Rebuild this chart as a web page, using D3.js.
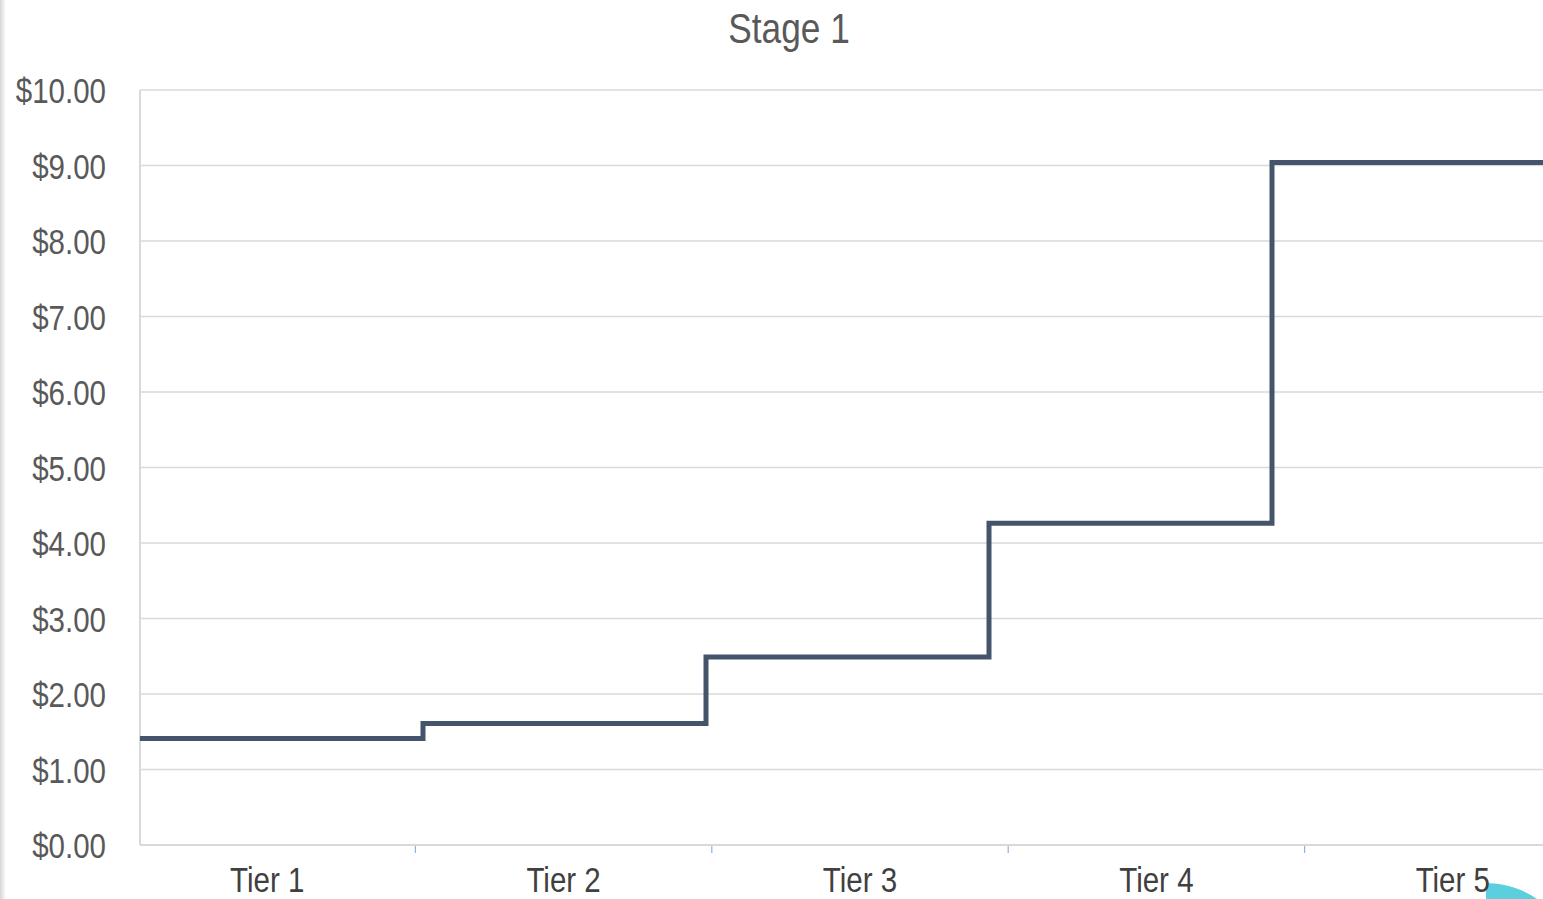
<!DOCTYPE html>
<html>
<head>
<meta charset="utf-8">
<script src="https://cdn.jsdelivr.net/npm/d3@7"></script>
<style>
  html, body { margin: 0; padding: 0; background: #fff; overflow: hidden; }
  svg { display: block; }
  text { font-family: "Liberation Sans", Arial, sans-serif; }
</style>
</head>
<body>
<svg id="chart" width="1543" height="899"></svg>
<script>
// ---- data ----
const title = "Stage 1";
const categories = ["Tier 1", "Tier 2", "Tier 3", "Tier 4", "Tier 5"];
const prices = [1.41, 1.61, 2.49, 4.26, 9.04];
const yTicks = [0, 1, 2, 3, 4, 5, 6, 7, 8, 9, 10];

// ---- layout ----
const W = 1543, H = 899;
const plotLeft = 140, plotRight = 1555, plotTop = 90, plotBottom = 845;
const narrow = 0.82;

const svg = d3.select("#chart");

// left edge shadow
const defs = svg.append("defs");
const grad = defs.append("linearGradient").attr("id", "edge").attr("x1", 0).attr("x2", 1);
grad.append("stop").attr("offset", 0).attr("stop-color", "#d6d6d6");
grad.append("stop").attr("offset", 1).attr("stop-color", "#ffffff");
svg.append("rect").attr("x", 0).attr("y", 0).attr("width", 6).attr("height", H).attr("fill", "url(#edge)");

const y = d3.scaleLinear().domain([0, 10]).range([plotBottom, plotTop]);
const xStep = d3.scaleLinear().domain([0, categories.length]).range([plotLeft, plotRight]);
const xCat = d3.scaleBand().domain(categories).range([119, 1601]);

// gridlines
svg.append("g").selectAll("line").data(yTicks.filter(d => d > 0)).join("line")
  .attr("x1", plotLeft).attr("x2", W)
  .attr("y1", d => y(d)).attr("y2", d => y(d))
  .attr("stroke", "#d9d9d9").attr("stroke-width", 1.5);

// axes lines
svg.append("line").attr("x1", plotLeft).attr("x2", plotLeft).attr("y1", plotTop).attr("y2", plotBottom)
  .attr("stroke", "#d9d9d9").attr("stroke-width", 2);
svg.append("line").attr("x1", plotLeft).attr("x2", W).attr("y1", plotBottom).attr("y2", plotBottom)
  .attr("stroke", "#d9d9d9").attr("stroke-width", 2);

// y labels
const fmt = d3.format("$.2f");
svg.append("g").selectAll("g").data(yTicks).join("g")
  .attr("transform", d => `translate(106,${y(d) + 13}) scale(${narrow},1)`)
  .append("text")
  .attr("text-anchor", "end")
  .attr("font-size", 36).attr("fill", "#595959")
  .text(d => fmt(d));

// category ticks (between bands)
const boundaries = categories.slice(1).map(c => xCat(c));
svg.append("g").selectAll("line").data(boundaries).join("line")
  .attr("x1", d => d).attr("x2", d => d)
  .attr("y1", plotBottom + 1).attr("y2", plotBottom + 8)
  .attr("stroke", "#8db3e2").attr("stroke-width", 1.2);

// cyan decoration (behind labels)
const clip = defs.append("clipPath").attr("id", "cclip");
clip.append("rect").attr("x", 1486).attr("y", 0).attr("width", 200).attr("height", H);
svg.append("circle").attr("cx", 1486).attr("cy", 972).attr("r", 89)
  .attr("fill", "#5ccfdf").attr("clip-path", "url(#cclip)");

// category labels
svg.append("g").selectAll("g").data(categories).join("g")
  .attr("transform", d => `translate(${xCat(d) + xCat.bandwidth() / 2},892) scale(${narrow},1)`)
  .append("text")
  .attr("text-anchor", "middle")
  .attr("font-size", 36).attr("fill", "#404040")
  .text(d => d);

// step line
const pts = prices.map((p, i) => [i, p]);
pts.push([categories.length, prices[prices.length - 1]]);
const line = d3.line().x(d => xStep(d[0])).y(d => y(d[1])).curve(d3.curveStepAfter);
svg.append("path").datum(pts)
  .attr("d", line)
  .attr("fill", "none")
  .attr("stroke", "#44546a").attr("stroke-width", 5)
  .attr("stroke-linejoin", "miter");

// title
svg.append("g").attr("transform", `translate(789,43) scale(${narrow},1)`)
  .append("text")
  .attr("text-anchor", "middle")
  .attr("font-size", 43).attr("fill", "#595959")
  .text(title);
</script>
</body>
</html>
